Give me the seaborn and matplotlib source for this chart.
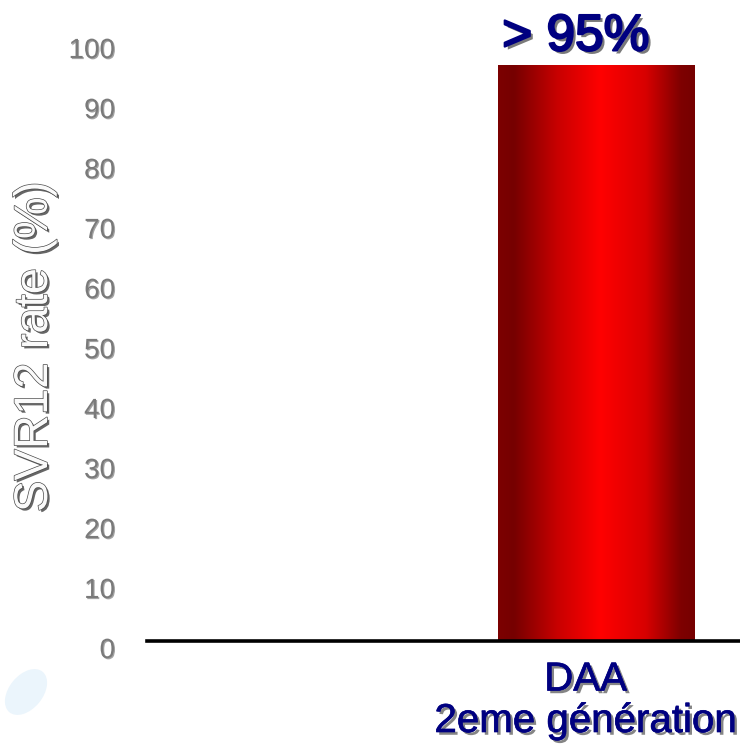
import matplotlib
matplotlib.use("Agg")
import matplotlib.pyplot as plt
import matplotlib.patheffects as pe
import matplotlib.transforms as mtransforms
from matplotlib.colors import LinearSegmentedColormap
from matplotlib.patches import Ellipse
import numpy as np
import pandas as pd
import seaborn as sns

# Data
groups = ["DAA\n2eme génération"]
svr12_rate = [96]
value_labels = ["> 95%"]
y_ticks = [0, 10, 20, 30, 40, 50, 60, 70, 80, 90, 100]

df = pd.DataFrame({"group": groups, "svr": svr12_rate})

sns.set_theme(style="white")
plt.rcParams["font.family"] = ["Liberation Sans", "DejaVu Sans"]

W, H, DPI = 740, 749, 100
fig = plt.figure(figsize=(W / DPI, H / DPI), dpi=DPI)
fig.patch.set_facecolor("white")

# axes: x from 147 px to right edge, y from 41 px (100) to 641 px (0)
left, right, top_px, bot_px = 147, 740, 41, 641
ax = fig.add_axes([left / W, (H - bot_px) / H, (right - left) / W, (bot_px - top_px) / H])
ax.set_facecolor("none")

sns.barplot(data=df, x="group", y="svr", ax=ax, width=0.8, color="#ff0000",
            edgecolor="none", linewidth=0)

# horizontal red gradient inside the bar
grad_cmap = LinearSegmentedColormap.from_list(
    "bar_red",
    [(0.0, "#7c0000"), (0.08, "#760000"), (0.3, "#c80000"), (0.52, "#ff0000"),
     (0.75, "#d80000"), (0.93, "#7e0000"), (1.0, "#760000")])
for patch in ax.patches:
    x0, y0 = patch.get_x(), patch.get_y()
    w, h = patch.get_width(), patch.get_height()
    grad = np.linspace(0, 1, 256).reshape(1, -1)
    im = ax.imshow(grad, cmap=grad_cmap, aspect="auto",
                   extent=(x0, x0 + w, y0, y0 + h), zorder=patch.get_zorder() + 0.1,
                   interpolation="bicubic")
    im.set_clip_path(patch)
ax.set_xlim(-1.827, 0.583)
ax.set_ylim(0, 100)

# spines: only the baseline
for side in ["top", "right", "left"]:
    ax.spines[side].set_visible(False)
ax.spines["bottom"].set_color("black")
ax.spines["bottom"].set_linewidth(2.6)
ax.spines["bottom"].set_zorder(5)

engraved = [pe.SimplePatchShadow(offset=(0.8, -0.8), shadow_rgbFace="#333333", alpha=0.45),
            pe.Normal()]
navy_shadow = [pe.SimplePatchShadow(offset=(2, -2), shadow_rgbFace="#222222", alpha=0.55),
               pe.Stroke(linewidth=0.5, foreground="#000080"), pe.Normal()]

# y ticks
ax.set_yticks(y_ticks)
ax.set_yticklabels([str(t) for t in y_ticks])
ax.tick_params(axis="y", length=0, pad=23, labelsize=20, labelcolor="#7a7a7a")
shift_down = mtransforms.ScaledTranslation(0, -7 / DPI, fig.dpi_scale_trans)
for lab in ax.get_yticklabels():
    lab.set_path_effects(engraved)
    lab.set_transform(lab.get_transform() + shift_down)

# x tick label
ax.tick_params(axis="x", length=0, pad=14, labelsize=29, labelcolor="#000080")
ax.set_xlabel("")
shift_left = mtransforms.ScaledTranslation(-11 / DPI, 0, fig.dpi_scale_trans)
for lab in ax.get_xticklabels():
    lab.set_path_effects(navy_shadow)
    lab.set_linespacing(1.1)
    lab.set_multialignment("center")
    lab.set_transform(lab.get_transform() + shift_left)

# y label
ax.set_ylabel("SVR12 rate (%)", fontsize=34, color="#fafafa")
ax.yaxis.label.set_path_effects(
    [pe.SimplePatchShadow(offset=(1.6, -1.6), shadow_rgbFace="#333333", alpha=0.75),
     pe.Stroke(linewidth=1.0, foreground="#4a4a4a"), pe.Normal()])
ax.yaxis.label.set_va("center")
ax.yaxis.set_label_coords((35 - left) / (right - left), (bot_px - 347) / (bot_px - top_px))

# value label above the bar
label_fx = [pe.SimplePatchShadow(offset=(2.2, -2.2), shadow_rgbFace="#222222", alpha=0.6),
            pe.Stroke(linewidth=1.6, foreground="#000080"), pe.Normal()]
for i, (v, txt) in enumerate(zip(svr12_rate, value_labels)):
    ax.annotate(txt, xy=(i, v), xytext=(-15, 10.5), textcoords="offset points",
                ha="center", va="baseline", fontsize=37,
                color="#000080", path_effects=label_fx, annotation_clip=False)

# faint light-blue drop in the lower-left corner
drop = Ellipse((26 / W, 1 - 692 / H), 52 / W, 34 / H, angle=50,
               transform=fig.transFigure, facecolor="#ebf5fc", edgecolor="none")
fig.patches.append(drop)

fig.savefig("out.png", dpi=DPI, facecolor="white")
